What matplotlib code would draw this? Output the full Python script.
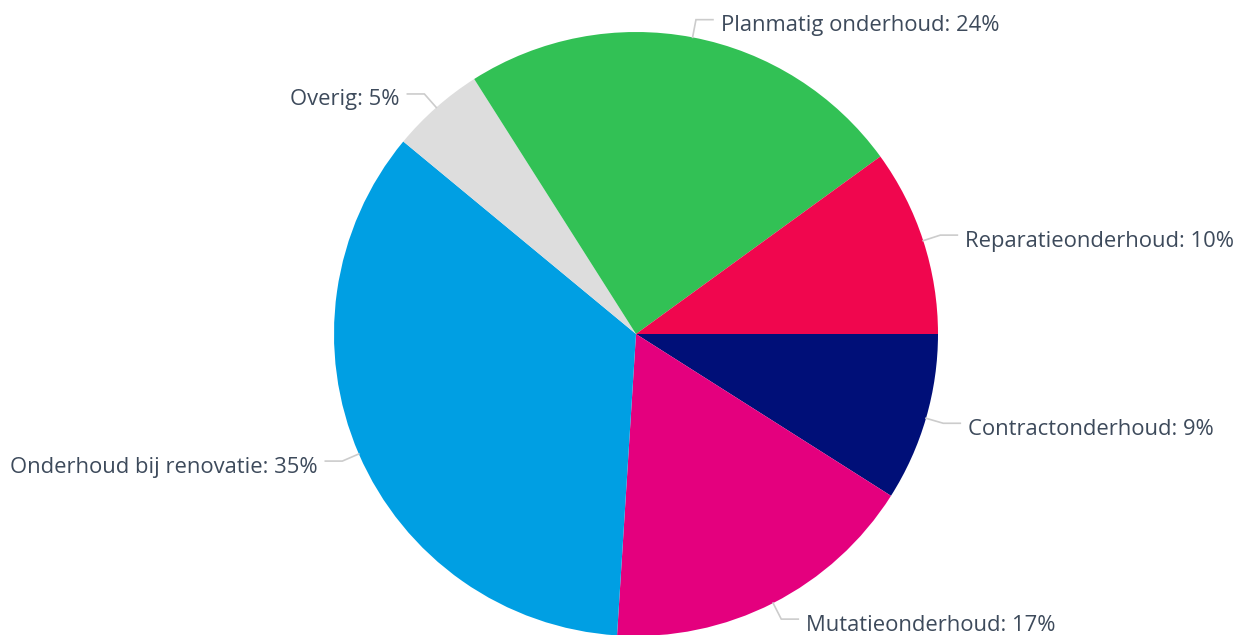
import numpy as np
import matplotlib.pyplot as plt

# onderhoudskosten per soort, in procenten
labels = ['Contractonderhoud', 'Mutatieonderhoud', 'Onderhoud bij renovatie',
          'Overig', 'Planmatig onderhoud', 'Reparatieonderhoud']
values = [9, 17, 35, 5, 24, 10]
colors = ['#000f78', '#e4007e', '#009fe3', '#dddddd', '#32c155', '#f0064e']

W, H = 1243, 635
cx, cy, r = 636, H - 334, 302

plt.rcParams['font.family'] = ['Open Sans', 'DejaVu Sans']

fig = plt.figure(figsize=(W / 100, H / 100), dpi=100)
ax = fig.add_axes([0, 0, 1, 1])

wedges, _ = ax.pie(values, colors=colors, startangle=0, counterclock=False,
                   center=(cx, cy), radius=r, frame=True,
                   wedgeprops=dict(linewidth=0))
ax.set_xlim(0, W)
ax.set_ylim(0, H)
ax.set_aspect('equal')
ax.axis('off')

for w, lab, v in zip(wedges, labels, values):
    ang = np.deg2rad((w.theta1 + w.theta2) / 2)
    x0, y0 = cx + r * np.cos(ang), cy + r * np.sin(ang)
    x1, y1 = cx + (r + 18) * np.cos(ang), cy + (r + 18) * np.sin(ang)
    side = 1 if np.cos(ang) >= 0 else -1
    x2 = x1 + side * 17
    ax.plot([x0, x1, x2], [y0, y1, y1], color='#cccccc', lw=1.2,
            solid_joinstyle='miter')
    ax.text(x2 + side * 8, y1 - 6, f'{lab}: {v}%', fontsize=15.8,
            color='#3d4a5b', va='center',
            ha='left' if side > 0 else 'right')

fig.savefig('out.png', dpi=100, facecolor='white')
